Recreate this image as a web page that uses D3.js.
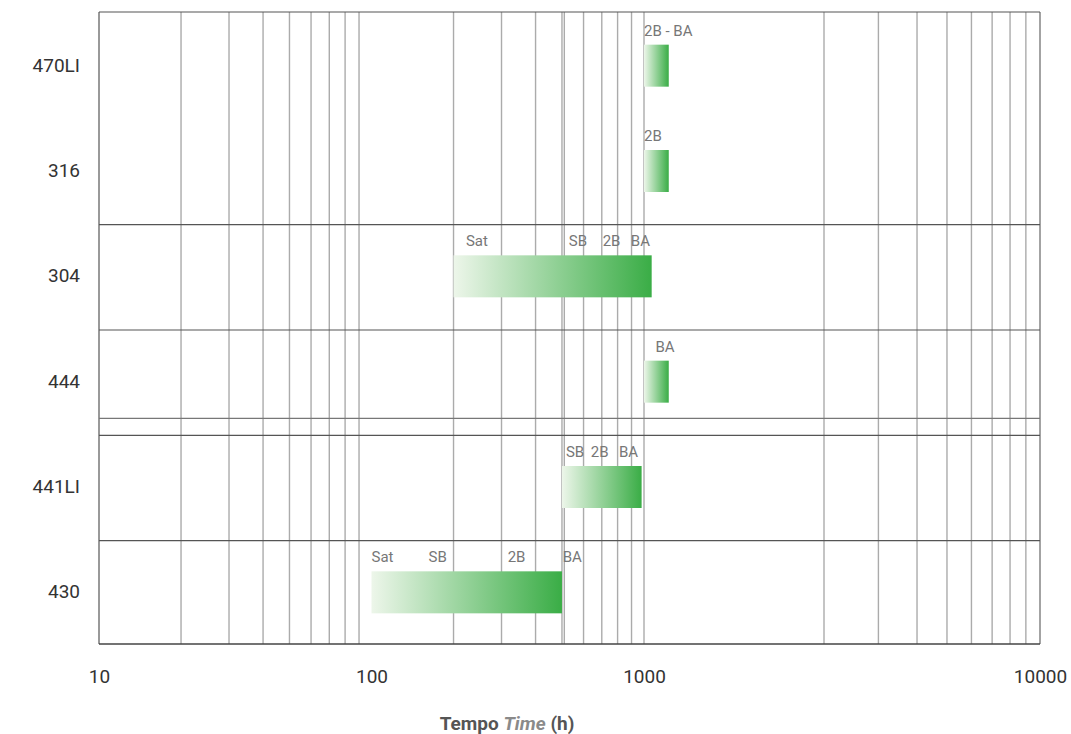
<!DOCTYPE html>
<html>
<head>
<meta charset="utf-8">
<script src="https://cdn.jsdelivr.net/npm/d3@7"></script>
<style>
  body { margin: 0; background: #fff; }
  text { font-family: Roboto, "Noto Sans", sans-serif; }
</style>
</head>
<body>
<div id="chart"></div>
<script>
// steel grades and the time range (h) of each bar
var alloys = ["470LI", "316", "304", "444", "441LI", "430"];
var barStart = [1000, 1000, 200, 1000, 500, 100];
var barEnd = [1100, 1100, 1030, 1100, 980, 500];

// finish labels above each bar and the time where each one starts
var stageNames = [["2B - BA"], ["2B"], ["Sat", "SB", "2B", "BA"], ["BA"], ["SB", "2B", "BA"], ["Sat", "SB", "2B", "BA"]];
var stageAt = [[1000], [1000], [222, 530, 705, 895], [1045], [517, 638, 809], [100, 162, 316, 503]];

var tickValues = [10, 100, 1000, 10000];
var gridValues = [20, 30, 40, 50, 60, 70, 80, 90,
  200, 300, 400, 500, 510, 600, 700, 800, 900,
  1000, 2000, 3000, 4000, 5000, 6000, 7000, 8000, 9000];

var width = 1071, height = 734;
var plotLeft = 99, plotRight = 1040, plotTop = 12, plotBottom = 644;

var svg = d3.select("#chart")
  .append("svg")
  .attr("width", width)
  .attr("height", height);

// the last decade of the original is drawn narrower, so the log scale is piecewise
var x = d3.scaleLog()
  .domain([10, 1000, 2000, 10000])
  .range([plotLeft, 644, 824, plotRight]);

var y = d3.scaleBand()
  .domain(alloys)
  .range([plotTop, plotBottom]);

var defs = svg.append("defs");
var grad = defs.append("linearGradient").attr("id", "barGrad");
grad.append("stop").attr("offset", "0%").attr("stop-color", "#edf6ea");
grad.append("stop").attr("offset", "100%").attr("stop-color", "#3aad46");

// vertical grid
svg.selectAll(".vgrid")
  .data(gridValues)
  .enter().append("line")
  .attr("class", "vgrid")
  .attr("x1", function (d) { return x(d); })
  .attr("x2", function (d) { return x(d); })
  .attr("y1", plotTop)
  .attr("y2", plotBottom)
  .style("stroke", "#ababab")
  .style("stroke-width", 1.4);

// frame
svg.append("line").attr("x1", plotLeft).attr("x2", plotLeft).attr("y1", plotTop).attr("y2", plotBottom)
  .style("stroke", "#555").style("stroke-width", 1.2);
svg.append("line").attr("x1", plotRight).attr("x2", plotRight).attr("y1", plotTop).attr("y2", plotBottom)
  .style("stroke", "#666").style("stroke-width", 1.2);
svg.append("line").attr("x1", plotLeft).attr("x2", plotRight).attr("y1", plotTop).attr("y2", plotTop)
  .style("stroke", "#555").style("stroke-width", 1.2);
svg.append("line").attr("x1", plotLeft).attr("x2", plotRight).attr("y1", plotBottom).attr("y2", plotBottom)
  .style("stroke", "#444").style("stroke-width", 1.6);

// row separators (no line between 470LI and 316, double line above 441LI)
var seps = [alloys[2], alloys[3], alloys[4], alloys[5]];
svg.selectAll(".sep")
  .data(seps)
  .enter().append("line")
  .attr("class", "sep")
  .attr("x1", plotLeft).attr("x2", plotRight)
  .attr("y1", function (d) { return y(d) + 2; })
  .attr("y2", function (d) { return y(d) + 2; })
  .style("stroke", "#555")
  .style("stroke-width", 1.2);
svg.append("line")
  .attr("x1", plotLeft).attr("x2", plotRight)
  .attr("y1", y(alloys[4]) - 15).attr("y2", y(alloys[4]) - 15)
  .style("stroke", "#777")
  .style("stroke-width", 1.2);

var barH = 42;
function barTop(i) { return y(alloys[i]) + y.bandwidth() / 2 - barH / 2 + 1; }

svg.selectAll(".bar")
  .data(alloys)
  .enter().append("rect")
  .attr("class", "bar")
  .attr("x", function (d, i) { return x(barStart[i]); })
  .attr("y", function (d, i) { return barTop(i); })
  .attr("width", function (d, i) { return x(barEnd[i]) - x(barStart[i]); })
  .attr("height", barH)
  .style("fill", "url(#barGrad)");

// finish labels
alloys.forEach(function (a, i) {
  svg.selectAll(".stage" + i)
    .data(stageNames[i])
    .enter().append("text")
    .attr("class", "stage" + i)
    .attr("x", function (d, j) { return x(stageAt[i][j]); })
    .attr("y", barTop(i) - 9)
    .style("font-size", "15px")
    .style("fill", "#777")
    .text(function (d) { return d; });
});

// row labels
svg.selectAll(".rowLabel")
  .data(alloys)
  .enter().append("text")
  .attr("class", "rowLabel")
  .attr("x", 80)
  .attr("y", function (d) { return y(d) + y.bandwidth() / 2; })
  .attr("dy", "0.36em")
  .style("text-anchor", "end")
  .style("font-size", "19px")
  .style("fill", "#333")
  .text(function (d) { return d; });

// x axis labels
var axis = svg.append("g")
  .attr("transform", "translate(0," + plotBottom + ")")
  .call(d3.axisBottom(x).tickValues(tickValues).tickSize(0).tickPadding(26).tickFormat(d3.format("d")));
axis.select(".domain").remove();
axis.selectAll("text")
  .style("font-family", "Roboto, sans-serif")
  .style("font-size", "19px")
  .style("fill", "#333");

var title = svg.append("text")
  .attr("x", 507)
  .attr("y", 730)
  .style("text-anchor", "middle")
  .style("font-size", "19px")
  .style("font-weight", "bold")
  .style("fill", "#555");
title.append("tspan").text("Tempo ");
title.append("tspan").style("font-style", "italic").style("fill", "#8a8a8a").text("Time");
title.append("tspan").text(" (h)");
</script>
</body>
</html>
